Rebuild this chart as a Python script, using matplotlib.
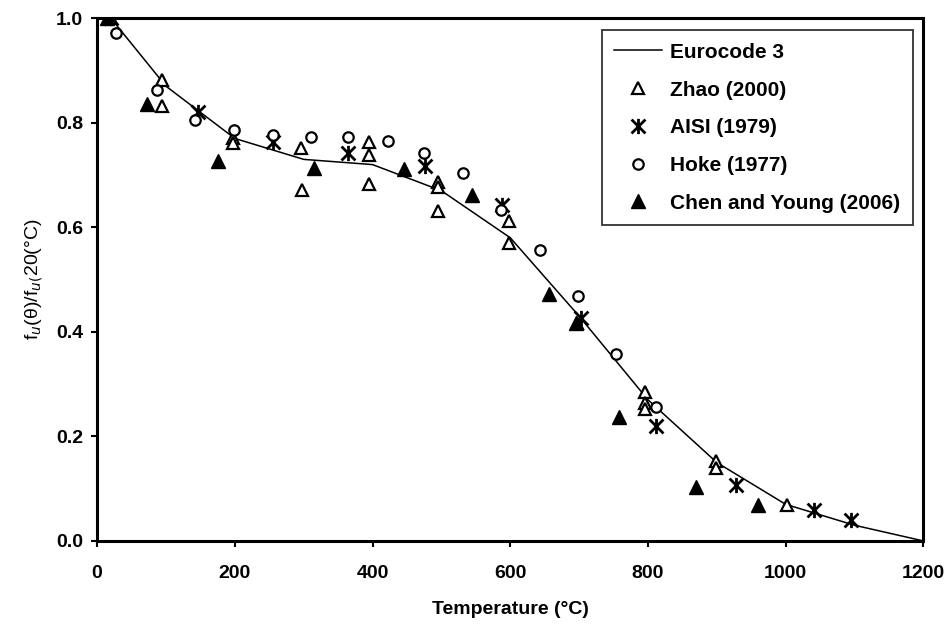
import numpy as np
import matplotlib
matplotlib.use("Agg")
import matplotlib.pyplot as plt
from matplotlib.path import Path

plt.rcParams['font.family'] = ['Liberation Sans', 'DejaVu Sans']

# Eurocode 3 reduction factor curve
ec3_temp = [20, 100, 200, 300, 400, 500, 600, 700, 800, 900, 1000, 1100, 1200]
ec3_ratio = [1.00, 0.87, 0.77, 0.73, 0.72, 0.67, 0.58, 0.43, 0.27, 0.15, 0.07, 0.03, 0.00]

# Test data
zhao_temp = [20, 94, 94, 198, 198, 296, 297, 395, 395, 395, 495, 495, 495, 598, 598,
             697, 796, 796, 796, 899, 899, 1002]
zhao_ratio = [1.0, 0.881, 0.832, 0.771, 0.761, 0.752, 0.671, 0.763, 0.738, 0.682, 0.687,
              0.677, 0.631, 0.612, 0.570, 0.416, 0.285, 0.263, 0.253, 0.152, 0.140, 0.069]

aisi_temp = [20, 146, 256, 365, 476, 588, 702, 812, 928, 1041, 1095]
aisi_ratio = [1.0, 0.821, 0.763, 0.742, 0.717, 0.642, 0.426, 0.219, 0.107, 0.059, 0.040]

hoke_temp = [28, 87, 142, 199, 256, 311, 364, 422, 475, 531, 587, 643, 699, 754, 812]
hoke_ratio = [0.971, 0.862, 0.805, 0.787, 0.776, 0.773, 0.773, 0.765, 0.742, 0.704,
              0.634, 0.556, 0.469, 0.358, 0.257]

chen_temp = [15, 73, 176, 315, 445, 544, 656, 695, 758, 870, 960]
chen_ratio = [1.0, 0.836, 0.727, 0.713, 0.711, 0.662, 0.472, 0.416, 0.238, 0.104, 0.069]

# asterisk like the Excel one: an x with a vertical bar
star = Path([(-1, -1), (1, 1), (-1, 1), (1, -1), (0, -1.1), (0, 1.1)],
            [Path.MOVETO, Path.LINETO, Path.MOVETO, Path.LINETO, Path.MOVETO, Path.LINETO])

fig = plt.figure(figsize=(9.52, 6.29), dpi=100)
ax = fig.add_axes([0.102, 0.140, 0.868, 0.831])

ax.plot(ec3_temp, ec3_ratio, color='black', lw=1.1, label='Eurocode 3', zorder=2)
ax.plot(zhao_temp, zhao_ratio, ls='none', marker='^', ms=9, mfc='white', mec='black',
        mew=1.6, label='Zhao (2000)', zorder=3)
ax.plot(aisi_temp, aisi_ratio, ls='none', marker=star, ms=11, mec='black', mew=2.0,
        label='AISI (1979)', zorder=3)
ax.plot(hoke_temp, hoke_ratio, ls='none', marker='o', ms=7.5, mfc='white', mec='black',
        mew=1.6, label='Hoke (1977)', zorder=3)
ax.plot(chen_temp, chen_ratio, ls='none', marker='^', ms=10, mfc='black', mec='black',
        label='Chen and Young (2006)', zorder=3)

ax.set_xlim(0, 1200)
ax.set_ylim(0, 1.0)
ax.set_xticks(np.arange(0, 1201, 200))
ax.set_yticks(np.arange(0, 1.01, 0.2))
ax.set_yticklabels(['%.1f' % v for v in np.arange(0, 1.01, 0.2)])
for s in ax.spines.values():
    s.set_linewidth(2.2)
ax.tick_params(direction='out', length=4, width=1.5, labelsize=14)
ax.tick_params(axis='x', pad=13)
ax.tick_params(axis='y', pad=6)
for lab in ax.get_xticklabels() + ax.get_yticklabels():
    lab.set_fontweight('bold')

ax.set_xlabel('Temperature (°C)', fontsize=14, fontweight='bold', labelpad=14)
ax.set_ylabel('f$_u$(θ)/f$_{u(}$20(°C)', fontsize=14, labelpad=8)

leg = ax.legend(loc='upper left', bbox_to_anchor=(0.611, 0.977), numpoints=1,
                fancybox=False, frameon=True, edgecolor='black',
                prop={'weight': 'bold', 'size': 15}, labelspacing=0.9,
                handlelength=2.26, handletextpad=0.4, borderpad=0.6,
                borderaxespad=0)
leg.get_frame().set_linewidth(1.3)

fig.savefig('out.png', dpi=100)
